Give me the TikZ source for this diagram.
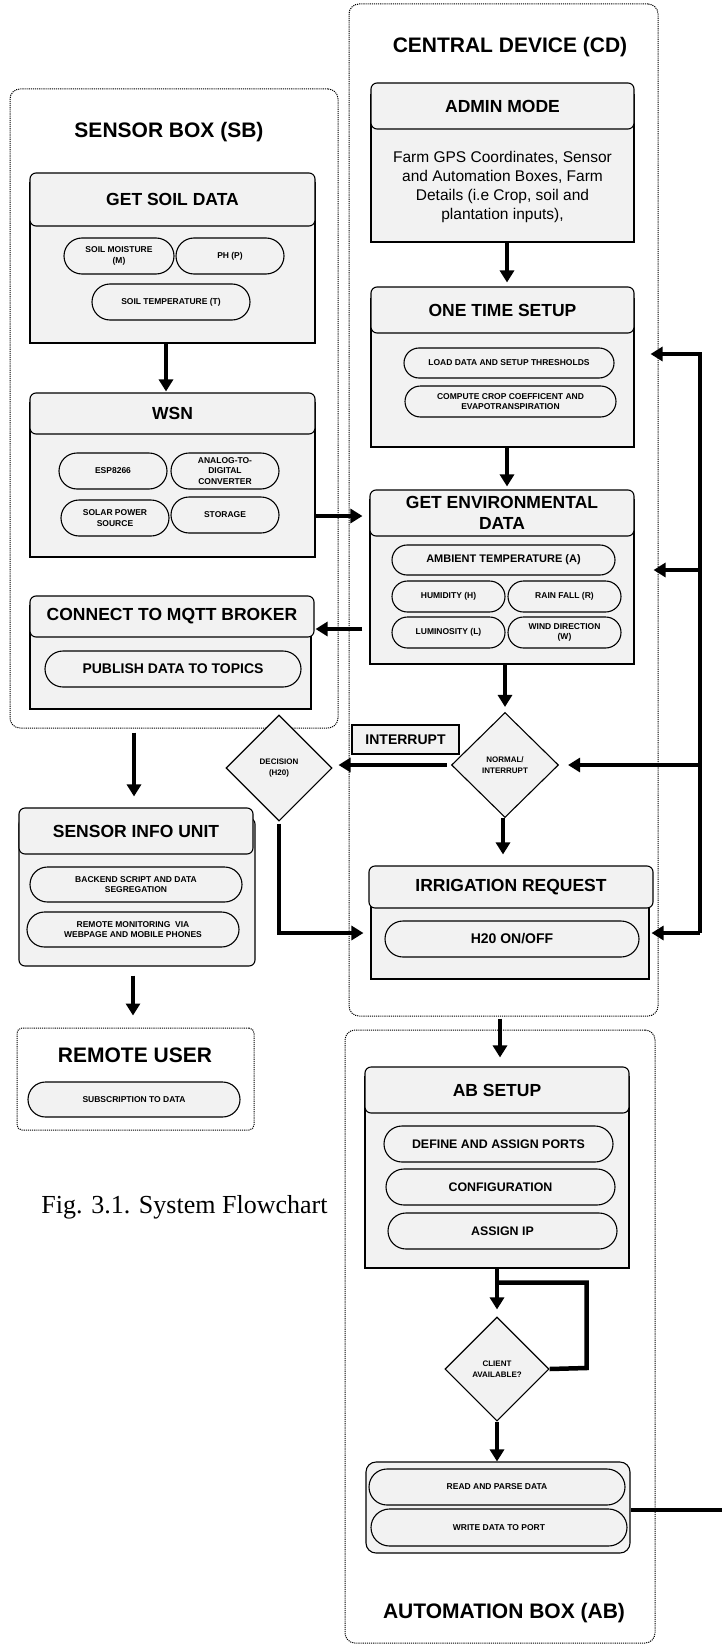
\documentclass[tikz,border=0pt]{standalone}
\usepackage{fontspec}
\setmainfont{Liberation Sans}
\newfontfamily\capfont{Liberation Serif}
\usetikzlibrary{shapes.geometric,shapes.misc,arrows.meta,calc}
\definecolor{boxfill}{HTML}{F2F2F2}
\tikzset{sz/.style 2 args={minimum width=#1pt,minimum height=#2pt}}

\begin{document}
\begin{tikzpicture}[x=1pt,y=-1pt]
	\useasboundingbox (0,0) rectangle (721,1645);
	\tikzstyle{zone}=[draw=black,line width=1pt,dash pattern=on 1.1pt off 1pt,rounded corners=10pt]
	\tikzstyle{ttl}=[font=\fontsize{21}{25}\selectfont\bfseries]
	\tikzstyle{bodyrect}=[draw,line width=1.1pt,fill=boxfill,inner sep=0pt]
	\tikzstyle{hdr}=[bodyrect,rounded corners=6pt,align=center,font=\fontsize{17.5}{21}\selectfont\bfseries]
	\tikzstyle{pill}=[draw,line width=1.1pt,fill=boxfill,rounded rectangle,inner sep=0pt,align=center,font=\fontsize{8.5}{10.5}\selectfont\bfseries]
	\tikzstyle{bigpill}=[pill,font=\fontsize{14}{17}\selectfont\bfseries]
	\tikzstyle{midpill}=[pill,font=\fontsize{12.4}{15}\selectfont\bfseries]
	\tikzstyle{dec}=[draw,line width=1.1pt,fill=boxfill,diamond,inner sep=0pt,align=center,font=\fontsize{8}{10.7}\selectfont\bfseries]
	\tikzstyle{flow}=[line width=4.5pt]
	\tikzstyle{arr}=[flow,-{Triangle[length=12pt,width=14pt]}]

	\node[zone,sz={309}{1012}] (cd) at (503.5,510) {};
	\node[zone,sz={328}{639}] (sb) at (174,408.5) {};
	\node[zone,rounded corners=5pt,sz={237}{102}] (ru) at (135.5,1079) {};
	\node[zone,sz={310}{613}] (ab) at (500,1336.5) {};
	\node[ttl] (cdt) at (510,47) {CENTRAL DEVICE (CD)};
	\node[ttl] (sbt) at (169,132) {SENSOR BOX (SB)};
	\node[ttl] (rut) at (135,1055) {REMOTE USER};
	\node[ttl] (abt) at (504,1613) {AUTOMATION BOX (AB)};

	\node[bodyrect,sz={263}{147}] (adminb) at (502.5,168.5) {};
	\node[hdr,sz={263}{46}] (admin) at (502.5,106) {ADMIN MODE};
	\node[align=center,font=\fontsize{15.5}{19}\selectfont] (admintxt) at (502.5,186.5) {Farm GPS Coordinates, Sensor\\and Automation Boxes, Farm\\Details (i.e Crop, soil and\\plantation inputs),};
	\node[bodyrect,sz={263}{148}] (oneb) at (502.5,373) {};
	\node[hdr,sz={263}{46}] (one) at (502.5,310) {ONE TIME SETUP};
	\node[pill,sz={210}{30}] (load) at (509,363) {LOAD DATA AND SETUP THRESHOLDS};
	\node[pill,sz={211}{31}] (crop) at (510.5,401.5) {COMPUTE CROP COEFFICENT AND\\EVAPOTRANSPIRATION};
	\node[bodyrect,sz={264}{164}] (envb) at (502,582) {};
	\node[hdr,sz={264}{46}] (env) at (502,513) {GET ENVIRONMENTAL\\DATA};
	\node[pill,sz={223}{30},font=\fontsize{11}{13}\selectfont\bfseries] (amb) at (503.5,560) {AMBIENT TEMPERATURE (A)};
	\node[pill,sz={113}{31}] (hum) at (448.5,596.5) {HUMIDITY (H)};
	\node[pill,sz={113}{31}] (rain) at (564.5,596.5) {RAIN FALL (R)};
	\node[pill,sz={113}{31}] (lum) at (448.5,632.5) {LUMINOSITY (L)};
	\node[pill,sz={113}{31}] (wind) at (564.5,632.5) {WIND DIRECTION\\(W)};
	\node[dec,sz={107}{105}] (normal) at (505,765) {NORMAL/\\INTERRUPT};
	\node[bodyrect,sz={107}{29},font=\fontsize{14}{17}\selectfont\bfseries] (intr) at (405.5,739.5) {INTERRUPT};
	\node[dec,sz={106}{106}] (decision) at (279,768) {DECISION\\(H20)};
	\node[bodyrect,sz={278}{103}] (irrb) at (510,927.5) {};
	\node[hdr,sz={284}{42}] (irr) at (511,887) {IRRIGATION REQUEST};
	\node[bigpill,sz={254}{36}] (hon) at (512,939) {H20 ON/OFF};

	\node[bodyrect,sz={285}{160}] (soilb) at (172.5,263) {};
	\node[hdr,sz={285}{53}] (soil) at (172.5,199.5) {GET SOIL DATA};
	\node[pill,sz={110}{36}] (moist) at (119,256) {SOIL MOISTURE\\(M)};
	\node[pill,sz={108}{36}] (ph) at (230,256) {PH (P)};
	\node[pill,sz={158}{36}] (stemp) at (171,302) {SOIL TEMPERATURE (T)};
	\node[bodyrect,sz={285}{154}] (wsnb) at (172.5,480) {};
	\node[hdr,sz={285}{41}] (wsn) at (172.5,413.5) {WSN};
	\node[pill,sz={108}{36}] (esp) at (113,471) {ESP8266};
	\node[pill,sz={108}{36}] (adc) at (225,471) {ANALOG-TO-\\DIGITAL\\CONVERTER};
	\node[pill,sz={108}{36}] (solar) at (115,518) {SOLAR POWER\\SOURCE};
	\node[pill,sz={108}{36}] (store) at (225,515) {STORAGE};
	\node[bodyrect,sz={281}{103}] (mqttb) at (170.5,657.5) {};
	\node[hdr,sz={284}{41}] (mqtt) at (172,616.5) {CONNECT TO MQTT BROKER};
	\node[bigpill,sz={256}{36}] (pub) at (173,669) {PUBLISH DATA TO TOPICS};

	\node[bodyrect,rounded corners=6pt,sz={236}{148}] (sinfob) at (137,892) {};
	\node[hdr,sz={234}{46}] (sinfo) at (136,831) {SENSOR INFO UNIT};
	\node[pill,sz={212}{35}] (backend) at (136,884.5) {BACKEND SCRIPT AND DATA\\SEGREGATION};
	\node[pill,sz={212}{35}] (monitor) at (133,929.5) {REMOTE MONITORING\ \ VIA\\WEBPAGE AND MOBILE PHONES};
	\node[pill,sz={212}{35}] (subs) at (134,1099.5) {SUBSCRIPTION TO DATA};
	\node[font=\capfont\fontsize{26}{30}\selectfont] (cap) at (184.5,1207) {Fig. 3.1. System Flowchart};

	\node[bodyrect,sz={264}{191}] (abb) at (497,1172.5) {};
	\node[hdr,sz={264}{46}] (absetup) at (497,1090) {AB SETUP};
	\node[midpill,sz={229}{36}] (ports) at (498.5,1144) {DEFINE AND ASSIGN PORTS};
	\node[midpill,sz={229}{36}] (config) at (500.5,1187) {CONFIGURATION};
	\node[midpill,sz={229}{36}] (ip) at (502.5,1231) {ASSIGN IP};
	\node[dec,sz={104}{104}] (client) at (497,1369) {CLIENT\\AVAILABLE?};
	\node[bodyrect,rounded corners=10pt,sz={264}{91}] (rw) at (498,1507.5) {};
	\node[pill,sz={256}{36}] (read) at (497,1487) {READ AND PARSE DATA};
	\node[pill,sz={256}{37}] (write) at (499,1527.5) {WRITE DATA TO PORT};

	\coordinate (fbt) at (700,354);
	\coordinate (fbb) at (700,933);
	\coordinate (edge) at (722,1510);

	\draw[arr] ($(adminb.south)+(4.5,0)$) -- ($(one.north)+(4.5,-4)$);
	\draw[arr] ($(oneb.south)+(4.5,0)$) -- ($(env.north)+(5,-3)$);
	\draw[arr] ($(soilb.south)+(-6.5,0)$) -- ($(wsn.north)+(-6.5,-1)$);
	\draw[arr] ($(wsnb.east)+(0,36)$) -- ($(envb.west)+(-7,-66)$);
	\draw[arr] ($(envb.west)+(-7,47)$) -- ($(mqtt.east)+(1,12.5)$);
	\draw[arr] ($(sb.south)+(-40,4)$) -- ($(sinfo.north)+(-2,-11)$);
	\draw[arr] ($(sinfob.south)+(-4,9)$) -- ($(ru.north)+(-2.5,-12)$);
	\draw[arr] ($(envb.south)+(3,0)$) -- ($(normal.north)+(0,-5)$);
	\draw[arr] ($(normal.west)+(-4,0)$) -- ($(normal.west-|decision.east)+(6,0)$);
	\draw[arr] ($(normal.south)+(-2,0)$) -- ($(irr.north)+(-8,-11)$);
	\draw[arr] ($(decision.south)+(0,2)$) |- ($(irrb.west)+(-7,5.5)$);
	\draw[arr] (fbb) -- (fbt) -- ($(fbt-|oneb.east)+(16,0)$);
	\draw[arr] ($(fbt|-envb.east)+(0,-12)$) -- ($(envb.east)+(19,-12)$);
	\draw[arr] (fbt|-normal.east) -- ($(normal.east)+(9,0)$);
	\draw[arr] (fbb) -- ($(fbb-|irrb.east)+(2,0)$);
	\draw[arr] ($(cd.south)+(-3.5,2)$) -- ($(absetup.north)+(3,-9)$);
	\draw[arr] (abb.south) -- ($(client.north)+(0,-7)$);
	\draw[flow] ($(abb.south)+(0,14)$) -| ($(client.east)+(37,-1)$) -- (client.east);
	\draw[arr] (client.south) -- (client.south|-rw.north);
	\draw[flow] ($(rw.east)+(0,2.5)$) -- (edge);
\end{tikzpicture}
\end{document}
